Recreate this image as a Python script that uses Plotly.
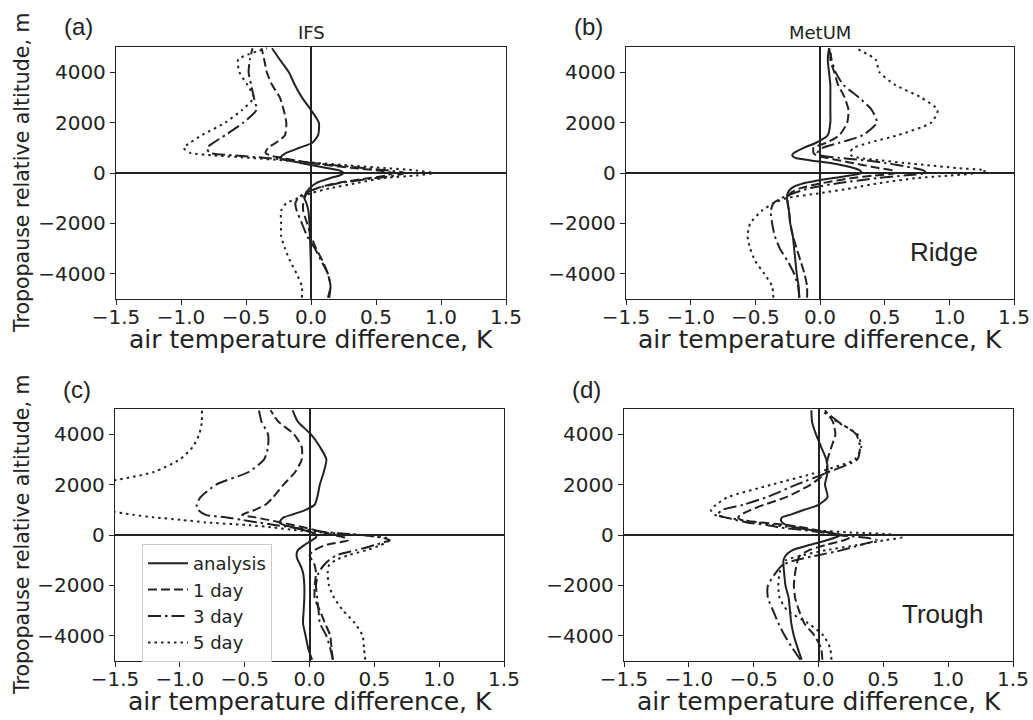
import plotly.graph_objects as go

# ---------------- data ----------------
ALT = [-4950, -4500, -4000, -3500, -3000, -2500, -2000, -1500, -1200, -1000, -800, -600, -400, -200, -100,
       0, 100, 200, 300, 400, 500, 600, 700, 800, 1000, 1200, 1500, 2000, 2500, 3000, 3500, 4000, 4500, 4950]

SERIES = ["analysis", "1 day", "3 day", "5 day"]

# (a) IFS ridge
ifs_ridge_analysis = [0.0, 0.0, 0.0, -0.002, -0.005, -0.008, -0.012, -0.02, -0.035, -0.05, -0.04, -0.01, 0.04, 0.15, 0.22,
                      0.25, 0.22, 0.12, 0.02, -0.08, -0.18, -0.24, -0.22, -0.19, -0.09, 0.01, 0.055, 0.06, 0.0, -0.07, -0.125, -0.17, -0.24, -0.30]
ifs_ridge_1day = [0.13, 0.15, 0.13, 0.09, 0.04, 0.0, -0.03, -0.06, -0.06, -0.05, -0.03, 0.05, 0.2, 0.45, 0.58,
                  0.63, 0.52, 0.32, 0.15, 0.0, -0.12, -0.22, -0.32, -0.35, -0.33, -0.27, -0.20, -0.19, -0.21, -0.24, -0.30, -0.34, -0.36, -0.38]
ifs_ridge_3day = [0.14, 0.15, 0.13, 0.08, 0.03, -0.03, -0.07, -0.11, -0.12, -0.10, -0.05, 0.05, 0.22, 0.5, 0.65,
                  0.72, 0.6, 0.4, 0.2, 0.0, -0.15, -0.35, -0.6, -0.78, -0.80, -0.75, -0.66, -0.52, -0.42, -0.44, -0.46, -0.48, -0.47, -0.45]
ifs_ridge_5day = [-0.07, -0.07, -0.11, -0.16, -0.20, -0.23, -0.23, -0.23, -0.19, -0.10, 0.0, 0.15, 0.35, 0.56, 0.81,
                  0.94, 0.81, 0.56, 0.30, 0.05, -0.21, -0.47, -0.75, -0.93, -0.98, -0.93, -0.84, -0.66, -0.53, -0.44, -0.49, -0.55, -0.56, -0.34]

# (b) MetUM ridge
um_ridge_analysis = [-0.16, -0.165, -0.18, -0.19, -0.20, -0.21, -0.23, -0.24, -0.25, -0.255, -0.25, -0.22, -0.12, 0.1, 0.23,
                     0.32, 0.31, 0.26, 0.18, 0.08, -0.07, -0.19, -0.215, -0.20, -0.125, -0.03, 0.06, 0.08, 0.08, 0.08, 0.08, 0.07, 0.06, 0.07]
um_ridge_1day = [-0.10, -0.10, -0.12, -0.15, -0.18, -0.21, -0.23, -0.24, -0.25, -0.25, -0.23, -0.15, 0.02, 0.25, 0.42,
                 0.59, 0.56, 0.45, 0.35, 0.25, 0.15, 0.05, -0.03, -0.05, -0.05, 0.05, 0.15, 0.21, 0.22, 0.19, 0.14, 0.11, 0.08, 0.09]
um_ridge_3day = [-0.16, -0.17, -0.20, -0.25, -0.31, -0.35, -0.37, -0.38, -0.36, -0.30, -0.2, -0.08, 0.15, 0.45, 0.65,
                 0.82, 0.8, 0.72, 0.62, 0.5, 0.35, 0.15, 0.0, -0.02, 0.02, 0.15, 0.33, 0.44, 0.40, 0.30, 0.18, 0.12, 0.09, 0.07]
um_ridge_5day = [-0.36, -0.37, -0.43, -0.50, -0.54, -0.56, -0.54, -0.45, -0.36, -0.26, 0.0, 0.25, 0.46, 0.75, 1.0,
                 1.22, 1.28, 1.05, 0.85, 0.65, 0.47, 0.3, 0.24, 0.23, 0.26, 0.38, 0.6, 0.86, 0.91, 0.78, 0.58, 0.46, 0.43, 0.28]

# (c) IFS trough
ifs_trough_analysis = [0.02, -0.01, -0.03, -0.05, -0.045, -0.04, -0.04, -0.05, -0.07, -0.09, -0.10, -0.09, -0.04, 0.02, 0.05,
                       0.05, 0.02, -0.05, -0.12, -0.2, -0.23, -0.22, -0.2, -0.14, -0.03, 0.04, 0.06, 0.08, 0.11, 0.13, 0.08, 0.01, -0.09, -0.13]
ifs_trough_1day = [0.18, 0.17, 0.16, 0.12, 0.08, 0.04, 0.04, 0.05, 0.04, 0.02, 0.0, 0.04, 0.12, 0.3, 0.27,
                   0.18, 0.1, 0.04, -0.04, -0.13, -0.22, -0.32, -0.42, -0.52, -0.42, -0.34, -0.28, -0.2, -0.11, -0.06, -0.06, -0.12, -0.24, -0.30]
ifs_trough_3day = [0.18, 0.16, 0.13, 0.08, 0.07, 0.06, 0.05, 0.07, 0.11, 0.15, 0.21, 0.36, 0.5, 0.62, 0.55,
                   0.4, 0.15, 0.0, -0.13, -0.27, -0.4, -0.52, -0.65, -0.8, -0.86, -0.87, -0.84, -0.72, -0.47, -0.35, -0.32, -0.32, -0.37, -0.39]
ifs_trough_5day = [0.43, 0.42, 0.41, 0.35, 0.26, 0.19, 0.15, 0.14, 0.15, 0.2, 0.3, 0.44, 0.55, 0.62, 0.58,
                   0.4, 0.1, -0.12, -0.28, -0.49, -0.8, -0.99, -1.2, -1.36, -1.6, -1.85, -1.9, -1.65, -1.2, -1.0, -0.9, -0.85, -0.83, -0.83]

# (d) MetUM trough
um_trough_analysis = [-0.13, -0.16, -0.19, -0.21, -0.22, -0.23, -0.255, -0.265, -0.27, -0.27, -0.25, -0.2, -0.07, 0.07, 0.13,
                      0.165, 0.08, -0.06, -0.17, -0.25, -0.28, -0.29, -0.28, -0.22, -0.11, 0.0, 0.07, 0.05, 0.07, 0.06, 0.02, -0.02, -0.05, -0.055]
um_trough_1day = [0.03, 0.02, -0.03, -0.11, -0.15, -0.18, -0.19, -0.18, -0.17, -0.16, -0.14, -0.07, 0.05, 0.2, 0.24,
                  0.18, 0.08, -0.02, -0.12, -0.25, -0.45, -0.6, -0.62, -0.6, -0.52, -0.42, -0.25, -0.06, 0.06, 0.07, 0.1, 0.13, 0.11, 0.05]
um_trough_3day = [-0.14, -0.2, -0.26, -0.31, -0.35, -0.39, -0.39, -0.33, -0.28, -0.18, 0.0, 0.18, 0.32, 0.45, 0.35,
                  0.15, 0.03, -0.12, -0.3, -0.4, -0.55, -0.64, -0.72, -0.78, -0.74, -0.58, -0.4, -0.17, 0.08, 0.3, 0.32, 0.29, 0.15, 0.04]
um_trough_5day = [0.1, 0.09, 0.04, -0.08, -0.24, -0.3, -0.31, -0.3, -0.28, -0.25, -0.12, 0.06, 0.3, 0.52, 0.64,
                  0.6, 0.25, -0.07, -0.2, -0.36, -0.47, -0.6, -0.72, -0.8, -0.83, -0.79, -0.7, -0.36, 0.0, 0.28, 0.33, 0.3, 0.14, 0.02]

X_TICKS = [-1.5, -1.0, -0.5, 0.0, 0.5, 1.0, 1.5]
X_TICKTEXT = ["\u22121.5", "\u22121.0", "\u22120.5", "0.0", "0.5", "1.0", "1.5"]
Y_TICKS = [-4000, -2000, 0, 2000, 4000]
Y_TICKTEXT = ["\u22124000", "\u22122000", "0", "2000", "4000"]

PANELS = [
    ("(a)", "IFS", "", [ifs_ridge_analysis, ifs_ridge_1day, ifs_ridge_3day, ifs_ridge_5day]),
    ("(b)", "MetUM", "Ridge", [um_ridge_analysis, um_ridge_1day, um_ridge_3day, um_ridge_5day]),
    ("(c)", "", "", [ifs_trough_analysis, ifs_trough_1day, ifs_trough_3day, ifs_trough_5day]),
    ("(d)", "", "Trough", [um_trough_analysis, um_trough_1day, um_trough_3day, um_trough_5day]),
]

# ---------------- layout geometry (pixels) ----------------
W, H = 1033, 720
BOXES = [(116, 506, 47, 299), (626, 1014, 47, 299), (115, 504, 409, 661), (624, 1013, 409, 661)]
DASHES = ["solid", "9px,4px", "13px,4px,2.5px,4px", "2.5px,4px"]
INK = "#222222"
FONT = "DejaVu Sans"


def px(x):
    return x / W


def py(y):
    return 1 - y / H


fig = go.Figure()
layout = dict(width=W, height=H, margin=dict(l=0, r=0, t=0, b=0, autoexpand=False),
              paper_bgcolor="white", plot_bgcolor="white",
              font=dict(family=FONT, color=INK), showlegend=True)
annotations = []

for i, (lab, title, region, series) in enumerate(PANELS):
    k = "" if i == 0 else str(i + 1)
    x0, x1, y0, y1 = BOXES[i]
    for j, vals in enumerate(series):
        fig.add_trace(go.Scatter(
            x=vals, y=ALT, mode="lines", name=SERIES[j],
            line=dict(color=INK, width=2.0, dash=DASHES[j], shape="spline", smoothing=0.6),
            xaxis="x" + k, yaxis="y" + k, showlegend=(i == 2), legendrank=j,
        ))
    common = dict(showline=True, mirror=True, linecolor=INK, linewidth=1.3,
                  ticks="outside", ticklen=5, tickwidth=1.3, tickcolor=INK,
                  showgrid=False, zeroline=True, zerolinecolor=INK, zerolinewidth=2,
                  automargin=False,
                  tickfont=dict(family=FONT, size=20, color=INK))
    layout["xaxis" + k] = dict(common, domain=[px(x0), px(x1)], range=[-1.5, 1.5],
                               tickvals=X_TICKS, ticktext=X_TICKTEXT, anchor="y" + k,
                               ticklabelstandoff=-5)
    layout["yaxis" + k] = dict(common, domain=[py(y1), py(y0)], range=[-5000, 5000],
                               tickvals=Y_TICKS, ticktext=Y_TICKTEXT, anchor="x" + k)
    # x-axis title
    annotations.append(dict(text="air temperature difference, K", x=px((x0 + x1) / 2), y=py(y1 + 40),
                            xref="paper", yref="paper", showarrow=False, xanchor="center", yanchor="middle",
                            font=dict(family=FONT, size=25, color=INK)))
    # panel label
    annotations.append(dict(text=lab, x=px(x0 - 38), y=py(y0 - 20), xref="paper", yref="paper",
                            showarrow=False, xanchor="center", yanchor="middle",
                            font=dict(family="Liberation Sans", size=24, color=INK)))
    if title:
        annotations.append(dict(text=title, x=px((x0 + x1) / 2), y=py(y0 - 14), xref="paper", yref="paper",
                                showarrow=False, xanchor="center", yanchor="middle",
                                font=dict(family=FONT, size=18, color=INK)))
    if region:
        annotations.append(dict(text=region, x=px(x0 + 318), y=py(y0 + 205), xref="paper", yref="paper",
                                showarrow=False, xanchor="center", yanchor="middle",
                                font=dict(family="Liberation Sans", size=26, color=INK)))
    if i in (0, 2):
        annotations.append(dict(text="Tropopause relative altitude, m", x=px(22), y=py((y0 + y1) / 2),
                                xref="paper", yref="paper", showarrow=False, textangle=-90,
                                xanchor="center", yanchor="middle",
                                font=dict(family=FONT, size=20.5, color=INK)))

layout["annotations"] = annotations
layout["legend"] = dict(x=px(142), y=py(544), xanchor="left", yanchor="top",
                        bordercolor="#cccccc", borderwidth=1, bgcolor="rgba(255,255,255,0.85)",
                        font=dict(family=FONT, size=18, color=INK), tracegroupgap=0,
                        itemwidth=40)
fig.update_layout(**layout)
fig.write_html("out.html", config={"displayModeBar": False},
               post_script="document.body.style.margin='0';document.body.style.overflow='hidden';")
